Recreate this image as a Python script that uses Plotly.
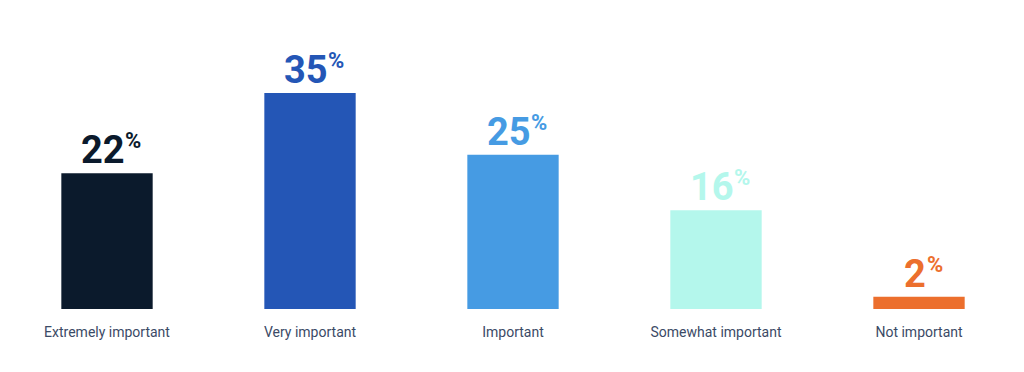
import plotly.graph_objects as go

categories = ["Extremely important", "Very important", "Important", "Somewhat important", "Not important"]
values = [22, 35, 25, 16, 2]
colors = ["#0b1a2c", "#2456b6", "#469be3", "#b4f7ec", "#ec6f2d"]

FONT = "Roboto, Arial"
NUM_SIZE = 38
PCT_SIZE = 22
DIGIT_W = 0.562 * NUM_SIZE  # approx Roboto bold digit advance

fig = go.Figure()
fig.add_trace(go.Bar(
    x=categories, y=values,
    marker=dict(color=colors, line=dict(width=0)),
    width=0.45,
    hoverinfo="skip",
))

for c, v, col in zip(categories, values, colors):
    w = len(str(v)) * DIGIT_W
    fig.add_annotation(
        x=c, y=v, xref="x", yref="y",
        text=str(v),
        showarrow=False, yanchor="bottom", xanchor="center",
        yshift=-1, xshift=-4,
        font=dict(family=FONT, size=NUM_SIZE, color=col, weight="bold"),
    )
    fig.add_annotation(
        x=c, y=v, xref="x", yref="y",
        text="%",
        showarrow=False, yanchor="bottom", xanchor="left",
        yshift=18, xshift=-4 + w / 2 - 1,
        font=dict(family=FONT, size=PCT_SIZE, color=col, weight="bold"),
    )

# page body has an 8px margin; compensate so bars land where the reference has them
fig.update_layout(
    width=1016, height=364,
    margin=dict(l=0, r=0, t=0, b=63),
    paper_bgcolor="white", plot_bgcolor="white",
    showlegend=False,
    xaxis=dict(
        range=[(8 - 107) / 203, (8 - 107) / 203 + 1016 / 203],
        showgrid=False, zeroline=False, showline=False,
        tickfont=dict(family=FONT, size=14, color="#3b4a66"),
        ticks="", ticklabelstandoff=13,
    ),
    yaxis=dict(range=[0, 301 / 6.17], visible=False, showgrid=False, zeroline=False),
)

fig.write_html("out.html")
